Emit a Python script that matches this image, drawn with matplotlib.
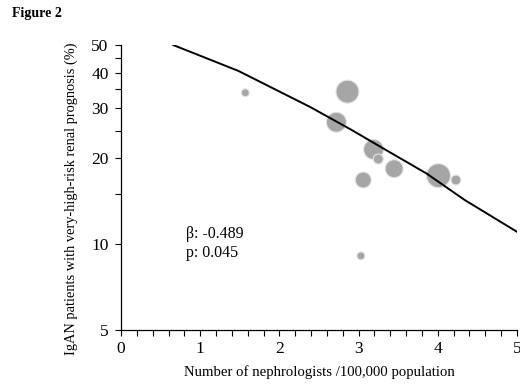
import numpy as np
import matplotlib
matplotlib.use("Agg")
import matplotlib.pyplot as plt
from matplotlib.ticker import FixedLocator, FixedFormatter, NullFormatter, MultipleLocator

plt.rcParams['font.family'] = ['Liberation Serif', 'DejaVu Serif']

# prefecture-level data: nephrologists per 100,000 vs % very-high-risk IgAN
nephro = [1.57, 2.86, 2.72, 3.19, 3.25, 3.45, 3.06, 4.01, 4.23, 3.03]
risk_pct = [34.0, 34.3, 26.8, 21.5, 19.9, 18.4, 16.8, 17.4, 16.8, 9.1]
bubble_r = [4, 11.5, 10, 10, 5, 9, 8, 12, 5, 4]   # bubble radius (px), ~ sample size

# fitted regression curve
fit_x = [0.66, 1.48, 2.39, 2.91, 3.31, 3.86, 4.34, 5.0]
fit_y = [50.0, 40.6, 30.3, 25.2, 21.7, 17.7, 14.3, 11.06]

fig = plt.figure(figsize=(5.2, 3.85), dpi=100)
ax = fig.add_axes([0.2327, 0.1429, 0.7613, 0.7401])

sizes = [(2 * r * 0.72) ** 2 for r in bubble_r]
ax.scatter(nephro, risk_pct, s=sizes, color='#a6a6a6', edgecolors='#e6e6e6',
           linewidths=0.8, zorder=2)
ax.plot(fit_x, fit_y, color='black', lw=1.4, zorder=3)

ax.set_yscale('log')
ax.set_xlim(0, 5)
ax.set_ylim(5, 50)
yt = [5, 10, 20, 30, 40, 50]
ax.yaxis.set_major_locator(FixedLocator(yt))
ax.yaxis.set_minor_locator(FixedLocator([15, 25, 35, 45]))
ax.yaxis.set_major_formatter(FixedFormatter([str(v) for v in yt]))
ax.yaxis.set_minor_formatter(NullFormatter())
ax.xaxis.set_major_locator(MultipleLocator(1))
ax.xaxis.set_minor_locator(MultipleLocator(0.2))

for s in ['top', 'right']:
    ax.spines[s].set_visible(False)
for s in ['left', 'bottom']:
    ax.spines[s].set_linewidth(0.9)
ax.tick_params(which='both', direction='out', length=4, width=0.8, labelsize=12.5)
ax.tick_params(axis='y', pad=5)
ax.tick_params(axis='x', pad=4)

ax.set_xlabel('Number of nephrologists /100,000 population', fontsize=10.6, labelpad=6)
ax.set_ylabel('IgAN patients with very-high-risk renal prognosis (%)', fontsize=10.4)
ax.yaxis.set_label_coords(-0.109, 0.461)

ax.text(0.164, 0.303, 'β: -0.489\np: 0.045', transform=ax.transAxes, fontsize=11.5,
        va='center', ha='left', linespacing=1.25)

fig.text(0.023, 0.965, 'Figure 2', fontsize=10, fontweight='bold', va='center')

fig.savefig('out.png', dpi=100)
